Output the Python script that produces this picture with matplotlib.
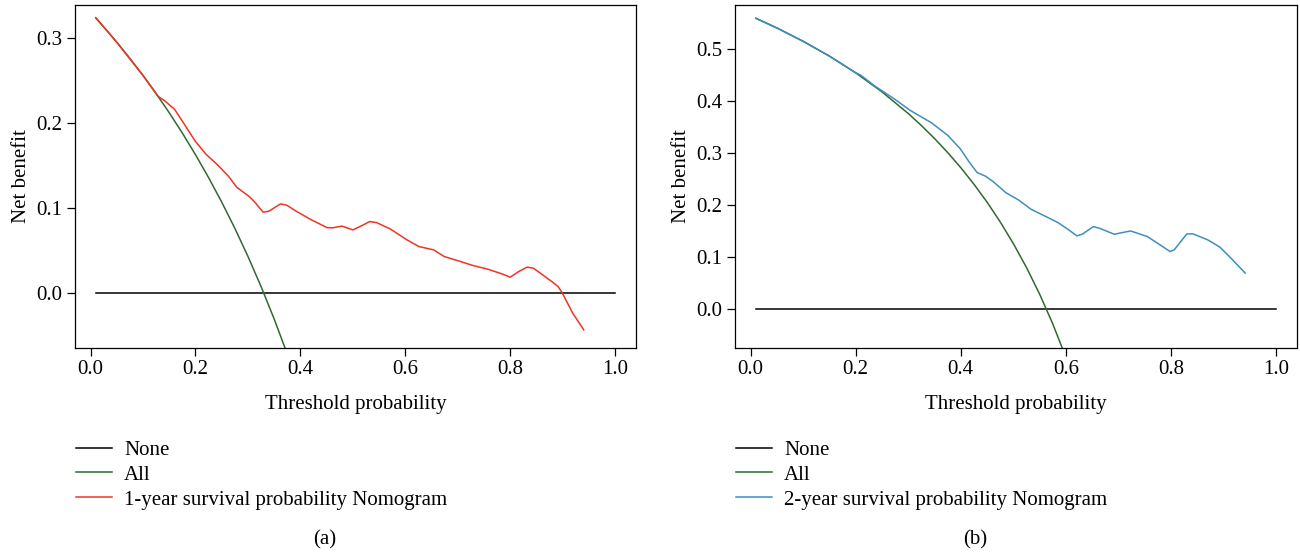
import matplotlib
matplotlib.use("Agg")
import matplotlib.pyplot as plt

plt.rcParams['font.family'] = ['Liberation Serif', 'DejaVu Serif']

# ---------------- data ----------------
thr_none = [0.01, 1.0]
nb_none = [0.0, 0.0]

# Panel (a): "All" strategy
thr_all_a = [0.01, 0.03, 0.05, 0.075, 0.10, 0.125, 0.15, 0.175, 0.20, 0.225,
             0.25, 0.275, 0.30, 0.325, 0.35, 0.375]
nb_all_a = [0.3232, 0.3093, 0.2947, 0.2757, 0.2556, 0.2343, 0.2118, 0.1879,
            0.1625, 0.1355, 0.1067, 0.0759, 0.0429, 0.0074, -0.0308, -0.0720]

# Panel (a): 1-year nomogram
thr_nom_a = [0.01, 0.05, 0.10, 0.129, 0.141, 0.160, 0.178, 0.200, 0.220, 0.243,
             0.263, 0.279, 0.303, 0.314, 0.329, 0.340, 0.362, 0.374, 0.393, 0.421,
             0.451, 0.462, 0.479, 0.500, 0.516, 0.532, 0.545, 0.571, 0.603, 0.626,
             0.654, 0.674, 0.701, 0.729, 0.757, 0.784, 0.800, 0.816, 0.832, 0.844,
             0.859, 0.879, 0.891, 0.899, 0.919, 0.940]
nb_nom_a = [0.3236, 0.2947, 0.2556, 0.231, 0.226, 0.216, 0.199, 0.178, 0.163, 0.150,
            0.137, 0.124, 0.113, 0.106, 0.0948, 0.096, 0.1046, 0.103, 0.0956, 0.0858,
            0.0766, 0.0765, 0.0785, 0.0740, 0.0787, 0.0838, 0.0826, 0.0752, 0.0623, 0.0544,
            0.0505, 0.0427, 0.0376, 0.0321, 0.0278, 0.0223, 0.0184, 0.025, 0.0302, 0.029,
            0.0223, 0.0133, 0.0074, 0.0, -0.024, -0.0435]

# Panel (b): "All" strategy
thr_all_b = [0.01, 0.05, 0.10, 0.15, 0.20, 0.25, 0.30, 0.325, 0.35, 0.375, 0.40,
             0.425, 0.45, 0.475, 0.50, 0.525, 0.55, 0.575, 0.60]
nb_all_b = [0.5586, 0.5400, 0.5144, 0.4859, 0.4538, 0.4173, 0.3757, 0.3526, 0.3277,
            0.3008, 0.2717, 0.2400, 0.2055, 0.1676, 0.1260, 0.0800, 0.0289, -0.0282, -0.0925]

# Panel (b): 2-year nomogram
thr_nom_b = [0.01, 0.05, 0.10, 0.15, 0.20, 0.21, 0.237, 0.273, 0.304, 0.344, 0.375,
             0.399, 0.415, 0.431, 0.447, 0.462, 0.486, 0.51, 0.534, 0.565, 0.585,
             0.601, 0.621, 0.632, 0.652, 0.664, 0.692, 0.723, 0.755, 0.779, 0.798,
             0.806, 0.830, 0.842, 0.870, 0.893, 0.917, 0.941]
nb_nom_b = [0.5586, 0.540, 0.5144, 0.4859, 0.4540, 0.4490, 0.428, 0.404, 0.3815, 0.358, 0.334,
            0.308, 0.284, 0.2624, 0.2554, 0.2446, 0.2236, 0.2096, 0.1917, 0.1764, 0.1662,
            0.1554, 0.1408, 0.1446, 0.1586, 0.1554, 0.144, 0.1503, 0.1395, 0.1236, 0.1108,
            0.114, 0.1446, 0.1446, 0.1331, 0.1191, 0.0949, 0.0694]

x_ticks = [0.0, 0.2, 0.4, 0.6, 0.8, 1.0]
y_ticks_a = [0.0, 0.1, 0.2, 0.3]
y_ticks_b = [0.0, 0.1, 0.2, 0.3, 0.4, 0.5]

labels_a = ["None", "All", "1-year survival probability Nomogram"]
labels_b = ["None", "All", "2-year survival probability Nomogram"]

# ---------------- style ----------------
C_NONE = "#000000"
C_ALL = "#2F6A2F"
C_A = "#EE3524"
C_B = "#3E8EBF"
FS = 15

fig = plt.figure(figsize=(13, 5.53), dpi=100)
ax_a = fig.add_axes([75 / 1300, 1 - 348 / 553, 561 / 1300, 343 / 553])
ax_b = fig.add_axes([735 / 1300, 1 - 348 / 553, 562 / 1300, 343 / 553])


def style(ax, yt, ylim):
    ax.set_xlim(-0.0296, 1.0396)
    ax.set_ylim(*ylim)
    ax.set_xticks(x_ticks)
    ax.set_xticklabels([f"{t:.1f}" for t in x_ticks])
    ax.set_yticks(yt)
    ax.set_yticklabels([f"{t:.1f}" for t in yt])
    ax.tick_params(direction="out", length=6, width=0.9, labelsize=FS, pad=3)
    for s in ax.spines.values():
        s.set_linewidth(0.9)
    ax.set_xlabel("Threshold probability", fontsize=FS, labelpad=11)
    ax.set_ylabel("Net benefit", fontsize=FS, labelpad=4)


for ax, ta, na, tn, nn, col, yt, ylim, labels, lx, cap, cx in [
    (ax_a, thr_all_a, nb_all_a, thr_nom_a, nb_nom_a, C_A, y_ticks_a, (-0.0649, 0.3385), labels_a, 75, "(a)", 0.25),
    (ax_b, thr_all_b, nb_all_b, thr_nom_b, nb_nom_b, C_B, y_ticks_b, (-0.0744, 0.584), labels_b, 735, "(b)", 0.75),
]:
    l1, = ax.plot(thr_none, nb_none, color=C_NONE, lw=1.1)
    l2, = ax.plot(ta, na, color=C_ALL, lw=1.1)
    l3, = ax.plot(tn, nn, color=col, lw=1.1)
    style(ax, yt, ylim)
    fig.legend([l1, l2, l3], labels, loc="upper left",
               bbox_to_anchor=((lx - 7) / 1300, 1 - 432 / 553),
               frameon=False, fontsize=FS, handlelength=1.7,
               handletextpad=0.6, labelspacing=0.25, borderaxespad=0)
    fig.text(cx, 1 - 540 / 553, cap, ha="center", va="center", fontsize=FS)

fig.savefig("out.png", dpi=100)
